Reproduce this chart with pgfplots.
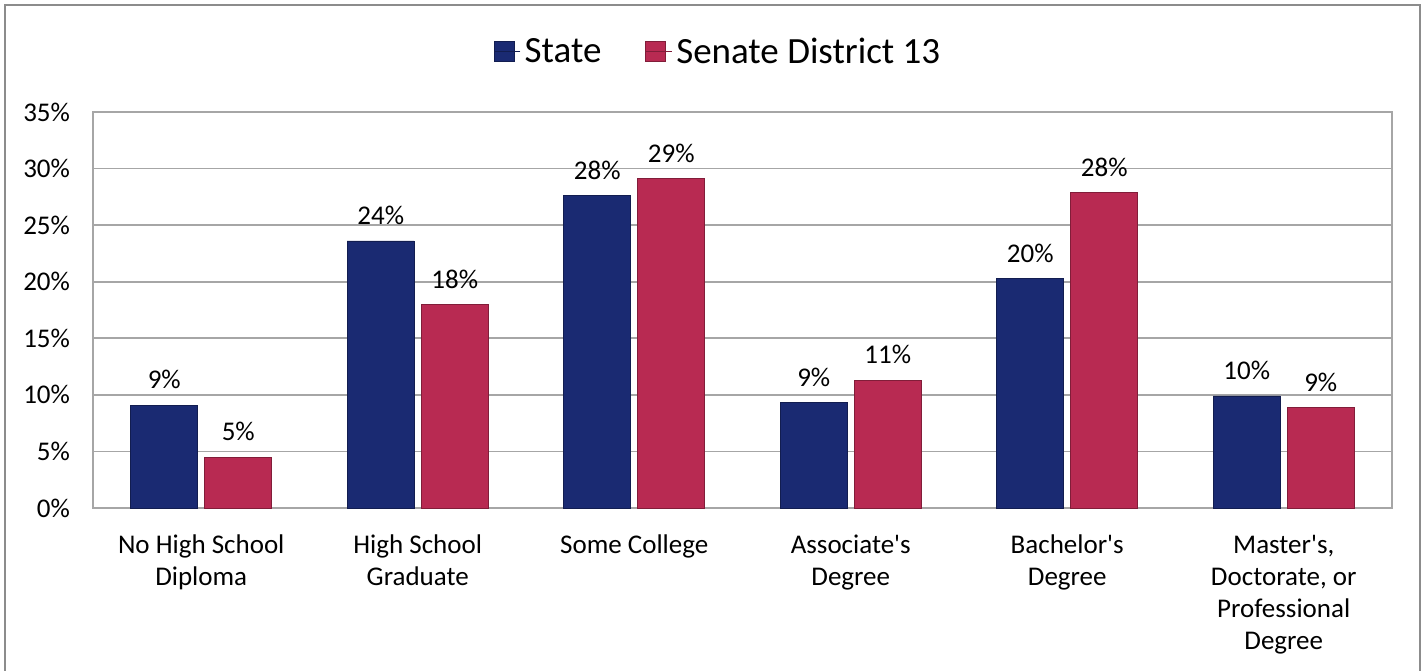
\documentclass[border=0pt]{standalone}
\usepackage{pgfplots}
\pgfplotsset{compat=1.18}
\usepackage{pgfplotstable}
\usepackage{fontspec}
\setmainfont{Carlito}
\definecolor{statec}{HTML}{1A2A72}
\definecolor{distc}{HTML}{B82A52}
\definecolor{gridc}{HTML}{A6A6A6}
\definecolor{framec}{HTML}{8C8C8C}
\pgfplotstableread{
x val lab
0 9.1 9\%
1 23.6 24\%
2 27.6 28\%
3 9.3 9\%
4 20.3 20\%
5 9.9 10\%
}\statedata
\pgfplotstableread{
x val lab
0 4.5 5\%
1 18.0 18\%
2 29.1 29\%
3 11.3 11\%
4 27.9 28\%
5 8.9 9\%
}\distdata
\begin{document}
\begin{tikzpicture}
\useasboundingbox (0,0) rectangle (712.5pt,335pt);
\draw[framec, line width=1pt] (2.5pt,-5pt) rectangle (710pt,332.5pt);
\begin{axis}[
  at={(46.5pt,81pt)}, anchor=south west,
  scale only axis, width=649.5pt, height=198pt,
  ybar=3.5pt, bar width=33.5pt,
  xmin=-0.5, xmax=5.5, ymin=0, ymax=35,
  xtick=data,
  xticklabels={{No High School\\Diploma},{High School\\Graduate},{Some College},{Associate\textquotesingle s\\Degree},{Bachelor\textquotesingle s\\Degree},{Master\textquotesingle s,\\Doctorate, or\\Professional\\Degree}},
  xticklabel style={align=center, font=\fontsize{13.5}{16}\selectfont, text depth=0pt},
  ytick={0,5,...,35},
  yticklabel={\pgfmathprintnumber{\tick}\%},
  yticklabel style={font=\fontsize{13.5}{16}\selectfont},
  /pgf/number format/assume math mode=true,
  major tick length=0pt,
  ymajorgrids, grid style={gridc, line width=0.8pt},
  axis line style={gridc, line width=0.8pt},
  xtick style={draw=none}, ytick style={draw=none},
  yticklabel shift=8pt,
  xticklabel shift=10pt,
  nodes near coords,
  point meta=explicit symbolic,
  every node near coord/.append style={font=\fontsize{13.5}{16}\selectfont, text=black, yshift=4.5pt},
  legend style={at={(0.482,1.152)}, anchor=center, draw=none, fill=none,
    legend columns=2, font=\fontsize{18.5}{22}\selectfont,
    /tikz/every even column/.append style={column sep=20pt}},
  legend image code/.code={\fill[#1] (0pt,-5pt) rectangle (10pt,5pt); \path (0pt,0pt) -- (13pt,0pt);},
]
\addplot[fill=statec, draw=statec!70!black] table[x=x, y=val, meta=lab] {\statedata};
\addlegendentry{State}
\addplot[fill=distc, draw=distc!70!black] table[x=x, y=val, meta=lab] {\distdata};
\addlegendentry{Senate District 13}
\end{axis}
\end{tikzpicture}
\end{document}
